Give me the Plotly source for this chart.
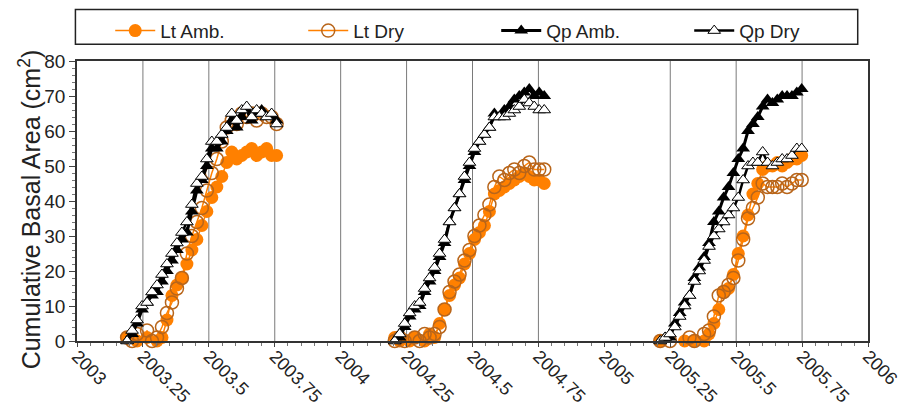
import numpy as np
import plotly.graph_objects as go

# --- sampling dates (weekly measurements, decimal years) ---
season_starts = [2003.19, 2004.205, 2005.212]
season_steps = [0.0189, 0.0189, 0.0185]
season_counts = [31, 31, 30]

# --- cumulative basal area (cm^2) per season ---
lt_amb = [
    [1, -1, 0, -2, 1, -1, 0, 1, 6, 13, 16, 18, 22, 26, 29, 33, 37, 41, 44, 47, 51, 54, 52, 53, 54, 55, 53, 54, 55, 53, 53],
    [1, 0, -1, 0, 1, -2, 0, 2, 1, 5, 9, 13, 16, 18, 22, 25, 29, 31, 33, 37, 42, 43, 44, 45, 46, 47, 48, 47, 46, 46, 45],
    [0, -1, -2, -1, -2, 0, -1, 0, -1, 0, 2, 5, 9, 14, 15, 19, 25, 30, 36, 42, 45, 49, 50, 50, 51, 50, 51, 52, 52, 53],
]
lt_dry = [
    [1, 0, 2, -1, 3, 0, 1, 4, 8, 11, 15, 18, 25, 30, 34, 38, 43, 48, 52, 57, 61, 63, 62, 65, 64, 65, 63, 65, 64, 64, 62],
    [0, 1, 0, -1, 1, 0, 2, 1, 2, 4, 9, 14, 17, 19, 23, 26, 30, 33, 36, 39, 44, 47, 46, 48, 49, 48, 50, 51, 49, 49, 49],
    [0, -1, 0, -1, -2, -1, 1, 0, -1, 2, 3, 7, 13, 14, 16, 18, 23, 29, 35, 38, 41, 45, 44, 44, 44, 45, 44, 45, 46, 46],
]
qp_amb = [
    [0, 2, 5, 9, 11, 13, 14, 17, 20, 23, 26, 29, 31, 37, 43, 46, 50, 55, 55, 57, 60, 63, 61, 64, 66, 63, 65, 66, 64, 64, 63],
    [0, 1, 4, 7, 9, 10, 14, 17, 20, 24, 28, 34, 38, 42, 46, 50, 54, 57, 59, 61, 65, 64, 66, 67, 69, 70, 71, 72, 70, 71, 70],
    [0, 1, 1, 5, 8, 11, 13, 18, 21, 24, 28, 34, 37, 41, 44, 48, 52, 55, 60, 62, 64, 67, 69, 68, 69, 70, 70, 70, 71, 72],
]
qp_dry = [
    [0, 3, 6, 10, 11, 14, 16, 19, 22, 25, 28, 31, 34, 39, 45, 47, 52, 57, 57, 59, 61, 65, 63, 66, 67, 64, 66, 65, 64, 65, 62],
    [0, 2, 5, 8, 10, 11, 15, 18, 21, 25, 29, 34, 38, 42, 47, 51, 55, 57, 59, 61, 64, 64, 64, 65, 66, 67, 69, 68, 67, 66, 66],
    [0, 1, 2, 4, 7, 10, 13, 17, 20, 23, 27, 30, 32, 34, 36, 38, 41, 46, 50, 51, 51, 54, 51, 50, 51, 52, 52, 53, 55, 55],
]

# --- axis ticks ---
x_tick_vals = [2003, 2003.25, 2003.5, 2003.75, 2004, 2004.25, 2004.5, 2004.75,
               2005, 2005.25, 2005.5, 2005.75, 2006]
x_tick_text = ["2003", "2003.25", "2003.5", "2003.75", "2004", "2004.25", "2004.5",
               "2004.75", "2005", "2005.25", "2005.5", "2005.75", "2006"]
grid_years = [2003.25, 2003.5, 2003.75, 2004, 2004.25, 2004.5, 2004.75,
              2005.25, 2005.5, 2005.75]
y_tick_vals = [0, 10, 20, 30, 40, 50, 60, 70, 80]
y_title = "Cumulative Basal Area (cm<sup>2</sup>)"


def season_dates():
    out = []
    for s, st, n in zip(season_starts, season_steps, season_counts):
        out.append(list(s + st * np.arange(n)))
    return out


def join(seasons):
    xs, ys = [], []
    dates = season_dates()
    for d, v in zip(dates, seasons):
        xs += d + [None]
        ys += v + [None]
    return xs[:-1], ys[:-1]


ORANGE = "#FF8000"
BROWN = "#B8651A"

fig = go.Figure()
x, y = join(lt_amb)
fig.add_trace(go.Scatter(x=x, y=y, name="Lt Amb.", mode="lines+markers",
                         line=dict(color=ORANGE, width=1.5),
                         marker=dict(symbol="circle", size=13, color=ORANGE,
                                     line=dict(width=0)),
                         cliponaxis=False))
x, y = join(lt_dry)
fig.add_trace(go.Scatter(x=x, y=y, name="Lt Dry", mode="lines+markers",
                         line=dict(color=ORANGE, width=1.5),
                         marker=dict(symbol="circle-open", size=13, color=BROWN,
                                     line=dict(width=1.5, color=BROWN)),
                         cliponaxis=False))
x, y = join(qp_amb)
fig.add_trace(go.Scatter(x=x, y=y, name="Qp Amb.", mode="lines+markers",
                         line=dict(color="black", width=3),
                         marker=dict(symbol="triangle-up", size=12, color="black"),
                         cliponaxis=False))
x, y = join(qp_dry)
fig.add_trace(go.Scatter(x=x, y=y, name="Qp Dry", mode="lines+markers",
                         line=dict(color="black", width=2.5),
                         marker=dict(symbol="triangle-up", size=11, color="white",
                                     line=dict(width=1, color="black")),
                         cliponaxis=False))

for g in grid_years:
    fig.add_shape(type="line", xref="x", yref="paper", x0=g, x1=g, y0=0, y1=1,
                  line=dict(color="#7a7a7a", width=1), layer="below")

# legend frame
fig.add_shape(type="rect", xref="paper", yref="paper",
              x0=-0.002, x1=0.987, y0=1.060, y1=1.184,
              line=dict(color="#222", width=1.5), fillcolor="white")

# y-axis title
fig.add_annotation(text=y_title, xref="paper", yref="paper",
                   x=-0.0595, y=0.47, xanchor="center", yanchor="middle",
                   textangle=-90, showarrow=False,
                   font=dict(size=25, color="#222"))

FONT = "Liberation Sans, Arial, sans-serif"
fig.update_layout(
    width=901, height=413,
    margin=dict(l=76.5, r=33, t=59, b=72),
    plot_bgcolor="white", paper_bgcolor="white",
    font=dict(family=FONT, size=16, color="#222"),
    showlegend=True,
    legend=dict(orientation="h", x=0.042, y=1.176, xanchor="left", yanchor="top",
                bgcolor="rgba(0,0,0,0)", borderwidth=0,
                entrywidth=138, entrywidthmode="pixels",
                font=dict(size=19, family=FONT, color="#222"), itemwidth=40),
    xaxis=dict(range=[2003, 2006], tickvals=x_tick_vals, ticktext=x_tick_text,
               tickangle=45, showgrid=False, zeroline=False, automargin=False,
               showline=True, linecolor="#333", linewidth=1.5, mirror=True,
               ticks="outside", ticklen=4, tickcolor="#444",
               ticklabeloverflow="allow", ticklabelstandoff=-8,
               minor=dict(dtick=0.05, ticks="outside", ticklen=3, tickcolor="#777", showgrid=False),
               tickfont=dict(size=18)),
    yaxis=dict(range=[0, 80], tickvals=y_tick_vals, showgrid=False, zeroline=False,
               automargin=False,
               showline=True, linecolor="#333", linewidth=1.5, mirror=True,
               ticks="outside", ticklen=6, tickcolor="#444",
               minor=dict(dtick=2, ticks="outside", ticklen=3, tickcolor="#777", showgrid=False),
               tickfont=dict(size=19)),
)

fig.write_html("out.html")
